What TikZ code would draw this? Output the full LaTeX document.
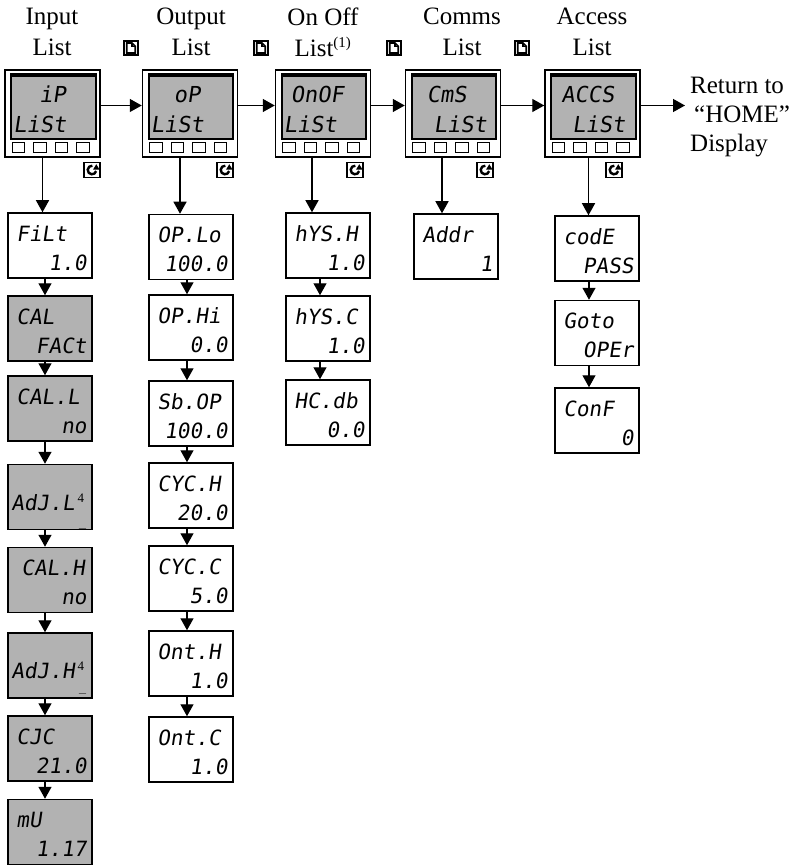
\documentclass[tikz,border=0pt]{standalone}
\usepackage{fontspec}
\setmainfont{Liberation Serif}
\newfontfamily\lcdfont{DejaVu Sans Mono}[FakeSlant=0.15]
\usetikzlibrary{arrows.meta, positioning, calc}

% instrument front panel: name, x, y, upper line, lower line
\newcommand{\unitpanel}[5]{%
  \node[device] (#1) at (#2,#3) {};
  \draw[lcdscreen] ($(#1.north west)+(7,5)$) rectangle ($(#1.south east)+(-5,-19)$);
  \draw[line width=2.2pt] ($(#1.north west)+(8,6.5)$) -- ($(#1.north east)+(-6,6.5)$);
  \node[lcdl, font=\lcdfont\fontsize{22}{22}\selectfont] (#1-t) at ($(#1.north west)+(9,33)$) {#4};
  \node[lcdl, font=\lcdfont\fontsize{22}{22}\selectfont] (#1-b) at ($(#1.north west)+(9,63)$) {#5};
  \foreach \k in {0,...,3}
    \draw[btn] ($(#1.south west)+(8+21.5*\k,-5)$) rectangle +(12.5,-10);
}

% parameter display: [style], name, x, y, upper line, lower line
\newcommand{\lcdbox}[6][]{%
  \node[pbox, #1] (#2) at (#3,#4) {};
  \node[lcdl] (#2-t) at ($(#2.north west)+(9,29)$) {#5};
  \node[lcdr] (#2-b) at ($(#2.north east)+(-6,58)$) {#6};
}

\newcommand{\supfour}{\kern3pt\raisebox{8pt}{\normalfont\fontsize{13}{13}\selectfont 4}}
\newcommand{\segbar}[1]{\raisebox{#1}{\fontsize{12}{12}\selectfont\_}}

\begin{document}
\begin{tikzpicture}[x=1pt, y=-1pt,
        lbl/.style={font=\fontsize{25}{31}\selectfont, align=center, anchor=north, inner sep=0pt},
        device/.style={draw, line width=1.5pt, fill=white, minimum width=95pt, minimum height=87pt, inner sep=0pt},
        lcdscreen/.style={draw, line width=1.6pt, fill=black!30},
        btn/.style={draw, line width=1.3pt, fill=white},
        pbox/.style={draw, line width=1.5pt, minimum width=84pt, minimum height=65pt, inner sep=0pt},
        shaded/.style={fill=black!30},
        lcdl/.style={font=\lcdfont\fontsize{21}{21}\selectfont, inner sep=0pt, anchor=base west},
        lcdr/.style={font=\lcdfont\fontsize{21}{21}\selectfont, inner sep=0pt, anchor=base east},
        arr/.style={-{Triangle[length=12pt,width=13pt]}, line width=1.3pt},
        pageicon/.pic={
            \draw[line width=1.4pt, fill=white] (-7,-7) rectangle (7,7);
            \draw[line width=1.7pt] (-4.3,-5) -- (1,-5) -- (4.3,-1.7) -- (4.3,5) -- (-4.3,5) -- cycle;
            \draw[line width=1.3pt] (1,-5) -- (1,-1.7) -- (4.3,-1.7);
        },
        cycleicon/.pic={
            \draw[line width=1.6pt, fill=white] (-8,-7.5) rectangle (8,7.5);
            \begin{scope}[yscale=-1]
            \draw[line width=2.4pt] (85:4.3) arc[start angle=85, end angle=345, radius=4.3];
            \fill (1,0.3) -- (7.6,0.3) -- (4.3,5.8) -- cycle;
            \end{scope}
        }
    ]
    \useasboundingbox (0,0) rectangle (803,866);

    % List titles
    \node[lbl] (inlbl) at (52,8) {Input\\List};
    \node[lbl] (oplbl) at (191,8) {Output\\List};
    \node[lbl] (onofflbl) at (323,8) {On Off\\List\textsuperscript{\fontsize{15}{15}\selectfont(1)}};
    \node[lbl] (cmslbl) at (462,8) {Comms\\List};
    \node[lbl] (acclbl) at (592,8) {Access\\List};

    % Page keys
    \pic at (131,48) {pageicon};
    \pic at (261,48) {pageicon};
    \pic at (394,48) {pageicon};
    \pic at (522,48) {pageicon};

    % List headers
    \unitpanel{ip}{52.5}{113.5}{\hspace*{26pt}iP}{LiSt}
    \unitpanel{op}{190}{113.5}{\hspace*{23pt}oP}{LiSt}
    \unitpanel{onoff}{323}{113.5}{\hspace*{7pt}OnOF}{LiSt}
    \unitpanel{cms}{453}{113.5}{\hspace*{13pt}CmS}{\hspace*{20pt}LiSt}
    \unitpanel{acc}{592.5}{113.5}{\hspace*{8pt}ACCS}{\hspace*{19pt}LiSt}

    % Scroll keys
    \pic at (92,170) {cycleicon};
    \pic at (225,170) {cycleicon};
    \pic at (355,170) {cycleicon};
    \pic at (485,170) {cycleicon};
    \pic at (614,170) {cycleicon};

    \node[anchor=north west, align=left, font=\fontsize{25}{29}\selectfont, inner xsep=5pt, inner ysep=0pt] (home) at (685,77)
        {Return to\\\hspace*{4pt}“HOME”\\Display};

    % Input list
    \lcdbox{filt}{50}{245.5}{FiLt}{1.0}
    \lcdbox[shaded]{calf}{50}{328.5}{CAL}{FACt}
    \lcdbox[shaded]{call}{50}{408.5}{CAL.L}{no}
    \lcdbox[shaded]{adjl}{50}{497}{}{\segbar{-5pt}}
    \node[lcdl] (adjl-m) at ($(adjl.north west)+(4,47)$) {AdJ.L\supfour};
    \lcdbox[shaded]{calh}{50}{580}{\hspace*{5pt}CAL.H}{no}
    \lcdbox[shaded]{adjh}{50}{665.5}{}{\segbar{-1pt}}
    \node[lcdl] (adjh-m) at ($(adjh.north west)+(4,46)$) {AdJ.H\supfour};
    \lcdbox[shaded]{cjc}{50}{748.5}{CJC}{21.0}
    \lcdbox[shaded]{mv}{50}{832}{mU}{1.17}

    % Output list
    \lcdbox{opl}{191}{247}{OP.Lo}{100.0}
    \lcdbox{oph}{191}{327.5}{OP.Hi}{0.0}
    \lcdbox{sbop}{191}{413.5}{Sb.OP}{100.0}
    \lcdbox{cych}{191}{495.5}{CYC.H}{20.0}
    \lcdbox{cycc}{191}{578.5}{CYC.C}{5.0}
    \lcdbox{onth}{191}{663.5}{Ont.H}{1.0}
    \lcdbox{ontc}{191}{749.5}{Ont.C}{1.0}

    % On Off list
    \lcdbox{hysh}{328}{245.5}{hYS.H}{1.0}
    \lcdbox{hysc}{328}{328.5}{hYS.C}{1.0}
    \lcdbox{hcdb}{328}{412.5}{HC.db}{0.0}

    % Comms list
    \lcdbox{addr}{456}{246.5}{Addr}{1}

    % Access list
    \lcdbox{code}{597}{248.5}{codE}{PASS}
    \lcdbox{goto}{597}{333}{Goto}{OPEr}
    \lcdbox{conf}{597}{420.5}{ConF}{0}

    % Arrows along the headers
    \draw[arr] ([yshift=8pt]ip.east) -- ([yshift=8pt]op.west);
    \draw[arr] ([yshift=8pt]op.east) -- ([yshift=8pt]onoff.west);
    \draw[arr] ([yshift=8pt]onoff.east) -- ([yshift=8pt]cms.west);
    \draw[arr] ([yshift=8pt]cms.east) -- ([yshift=8pt]acc.west);
    \draw[arr] ([yshift=8pt]acc.east) -- ([yshift=8pt]acc.east -| home.west);

    % Arrows into the lists
    \draw[arr] ([xshift=-10pt]ip.south) -- ([xshift=-10pt]ip.south |- filt.north);
    \draw[arr] ([xshift=-10pt]op.south) -- ([xshift=-10pt]op.south |- opl.north);
    \draw[arr] ([xshift=-11pt]onoff.south) -- ([xshift=-11pt]onoff.south |- hysh.north);
    \draw[arr] ([xshift=-11pt]cms.south) -- ([xshift=-11pt]cms.south |- addr.north);
    \draw[arr] ([xshift=-4pt]acc.south) -- ([xshift=-4pt]acc.south |- code.north);

    % Input list steps
    \draw[arr] ([xshift=-5pt]filt.south) -- ([xshift=-5pt]calf.north);
    \draw[arr] ([xshift=-5pt]calf.south) -- ([xshift=-5pt]call.north);
    \draw[arr] ([xshift=-5pt]call.south) -- ([xshift=-5pt]adjl.north);
    \draw[arr] ([xshift=-5pt]adjl.south) -- ([xshift=-5pt]calh.north);
    \draw[arr] ([xshift=-5pt]calh.south) -- ([xshift=-5pt]adjh.north);
    \draw[arr] ([xshift=-5pt]adjh.south) -- ([xshift=-5pt]cjc.north);
    \draw[arr] ([xshift=-5pt]cjc.south) -- ([xshift=-5pt]mv.north);

    % Output list steps
    \draw[arr] ([xshift=-4pt]opl.south) -- ([xshift=-4pt]oph.north);
    \draw[arr] ([xshift=-4pt]oph.south) -- ([xshift=-4pt]sbop.north);
    \draw[arr] ([xshift=-4pt]sbop.south) -- ([xshift=-4pt]cych.north);
    \draw[arr] ([xshift=-4pt]cych.south) -- ([xshift=-4pt]cycc.north);
    \draw[arr] ([xshift=-4pt]cycc.south) -- ([xshift=-4pt]onth.north);
    \draw[arr] ([xshift=-4pt]onth.south) -- ([xshift=-4pt]ontc.north);

    % On Off list steps
    \draw[arr] ([xshift=-8pt]hysh.south) -- ([xshift=-8pt]hysc.north);
    \draw[arr] ([xshift=-8pt]hysc.south) -- ([xshift=-8pt]hcdb.north);

    % Access list steps
    \draw[arr] ([xshift=-8pt]code.south) -- ([xshift=-8pt]goto.north);
    \draw[arr] ([xshift=-8pt]goto.south) -- ([xshift=-8pt]conf.north);
\end{tikzpicture}
\end{document}
